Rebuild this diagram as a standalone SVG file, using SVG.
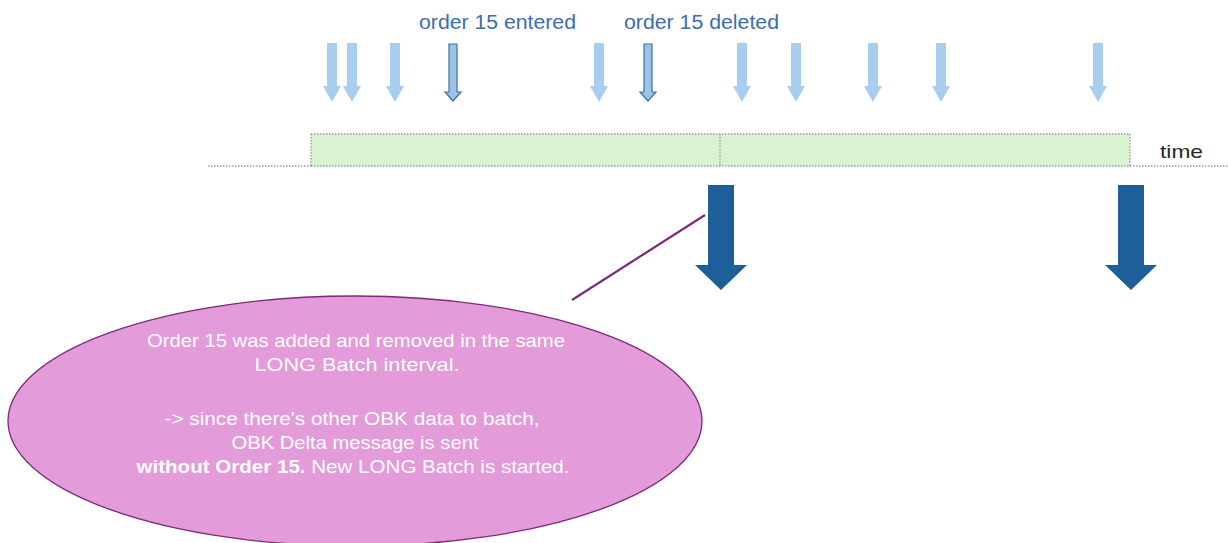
<svg xmlns="http://www.w3.org/2000/svg" xmlns:xlink="http://www.w3.org/1999/xlink" width="1228" height="543" viewBox="0 0 1228 543">
<style>
.lbl{font-family:"Liberation Sans",Arial,sans-serif;font-size:20px;fill:#3a6fae}
.time{font-family:"Liberation Sans",Arial,sans-serif;font-size:19px;fill:#262626}
.note{font-family:"Liberation Sans",Arial,sans-serif;font-size:19px;fill:#ffffff;text-anchor:middle}
.evt{fill:#a8cdee}
.ord{fill:#9dc3e6;stroke:#41719c;stroke-width:1.2}
.big{fill:#1f5f99}
.dot{stroke:#9a9a9a;stroke-width:1.3;stroke-dasharray:1.5 1.5;fill:none}
</style>
<defs>
<path id="ev" d="M-5 43H5V86H9L0 102L-9 86H-5Z"/>
<path id="od" d="M-4 44H4V92H8L0 101L-8 92H-4Z"/>
<path id="bg" d="M-13 185H13V265H26L0 290L-26 265H-13Z"/>
</defs>
<g id="events">
<use href="#ev" class="evt" x="332"/>
<use href="#ev" class="evt" x="352"/>
<use href="#ev" class="evt" x="395"/>
<use href="#ev" class="evt" x="599"/>
<use href="#ev" class="evt" x="742"/>
<use href="#ev" class="evt" x="796"/>
<use href="#ev" class="evt" x="873"/>
<use href="#ev" class="evt" x="941"/>
<use href="#ev" class="evt" x="1098"/>
</g>
<g id="order-entered">
<use href="#od" class="ord" x="453"/>
<text class="lbl" x="419" y="29" textLength="157" lengthAdjust="spacingAndGlyphs">order 15 entered</text>
</g>
<g id="order-deleted">
<use href="#od" class="ord" x="648"/>
<text class="lbl" x="624" y="29" textLength="155" lengthAdjust="spacingAndGlyphs">order 15 deleted</text>
</g>
<g id="timeline">
<rect x="311" y="134" width="819" height="32" fill="#d9f2d0"/>
<path class="dot" d="M311 134H1130V166M311 134V166M720 134V166M1130 166H1228"/>
<path class="dot" stroke="#555" d="M208 166H311"/>
<path class="dot" d="M311 166H1130"/>
<text class="time" x="1160" y="158" textLength="43" lengthAdjust="spacingAndGlyphs">time</text>
</g>
<g id="batch-sends">
<use href="#bg" class="big" x="721"/>
<use href="#bg" class="big" x="1131"/>
</g>
<g id="connectors">
<line x1="705" y1="215" x2="572" y2="300" stroke="#7b2a7c" stroke-width="2.2"/>
</g>
<g id="note">
<ellipse cx="355" cy="421" rx="347" ry="125" fill="#e39bd9" stroke="#7b2a7c" stroke-width="1.3"/>
<text class="note" x="356" y="347" textLength="418" lengthAdjust="spacingAndGlyphs">Order 15 was added and removed in the same</text>
<text class="note" x="357" y="371" textLength="205" lengthAdjust="spacingAndGlyphs">LONG Batch interval.</text>
<text class="note" x="352" y="425" textLength="375" lengthAdjust="spacingAndGlyphs">-&gt; since there's other OBK data to batch,</text>
<text class="note" x="355" y="449" textLength="247" lengthAdjust="spacingAndGlyphs">OBK Delta message is sent</text>
<text class="note" x="353" y="473" textLength="433" lengthAdjust="spacingAndGlyphs"><tspan font-weight="bold">without Order 15.</tspan> New LONG Batch is started.</text>
</g>
</svg>
